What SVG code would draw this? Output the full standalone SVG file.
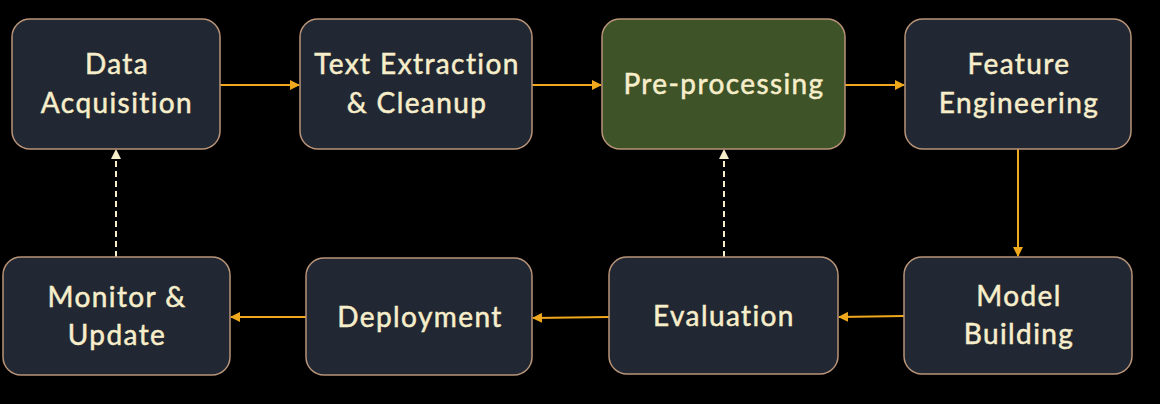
<svg xmlns="http://www.w3.org/2000/svg" width="1160" height="404" viewBox="0 0 1160 404">
<style>
.node rect{fill:#222833;stroke:#b89478;stroke-width:1.5}
.node.hl rect{fill:#3f5328}
.node text{font-family:Lato,"Liberation Sans",sans-serif;font-size:28px;letter-spacing:1.4px;fill:#f7eecb;stroke:#f7eecb;stroke-width:0.5;text-anchor:middle}
.flow{stroke:#f0a81c;stroke-width:2;fill:none;marker-end:url(#ah)}
.fb{stroke:#f6edcb;stroke-width:2;fill:none;stroke-dasharray:6 4;marker-end:url(#ahw)}
</style>
<defs>
<marker id="ah" viewBox="0 0 10 10" refX="9" refY="5" markerWidth="5" markerHeight="5" orient="auto"><path d="M0,0L10,5L0,10z" fill="#f0a81c"/></marker>
<marker id="ahw" viewBox="0 0 10 10" refX="9" refY="5" markerWidth="5" markerHeight="5" orient="auto"><path d="M0,0L10,5L0,10z" fill="#f6edcb"/></marker>
</defs>
<rect width="1160" height="404" fill="#000"/>
<g id="connectors">
<line class="flow" x1="220" y1="85" x2="299" y2="85"/>
<line class="flow" x1="532" y1="85" x2="601" y2="85"/>
<line class="flow" x1="845" y1="85" x2="904" y2="85"/>
<line class="flow" x1="1018" y1="149" x2="1018" y2="256"/>
<line class="flow" x1="904" y1="316" x2="839" y2="317"/>
<line class="flow" x1="609" y1="317" x2="533" y2="318"/>
<line class="flow" x1="306" y1="317" x2="231" y2="317"/>
<line class="fb" x1="116" y1="257" x2="116" y2="150"/>
<line class="fb" x1="724" y1="257" x2="724" y2="150"/>
</g>
<g id="data-acquisition" class="node"><rect x="12" y="19" width="208" height="130" rx="18"/><text x="117" y="74">Data</text><text x="117" y="113">Acquisition</text></g>
<g id="text-extraction" class="node"><rect x="300" y="19" width="232" height="130" rx="18"/><text x="417" y="74">Text Extraction</text><text x="417" y="113">&amp; Cleanup</text></g>
<g id="pre-processing" class="node hl"><rect x="602" y="19" width="243" height="130" rx="18"/><text x="724" y="94">Pre-processing</text></g>
<g id="feature-engineering" class="node"><rect x="905" y="19" width="226" height="130" rx="18"/><text x="1019" y="74">Feature</text><text x="1019" y="113">Engineering</text></g>
<g id="model-building" class="node"><rect x="904" y="257" width="228" height="117" rx="18"/><text x="1019" y="306">Model</text><text x="1019" y="344">Building</text></g>
<g id="evaluation" class="node"><rect x="609" y="257" width="229" height="117" rx="18"/><text x="724" y="326">Evaluation</text></g>
<g id="deployment" class="node"><rect x="306" y="258" width="226" height="117" rx="18"/><text x="420" y="327">Deployment</text></g>
<g id="monitor-update" class="node"><rect x="3" y="257" width="227" height="118" rx="18"/><text x="117" y="307">Monitor &amp;</text><text x="117" y="345">Update</text></g>
</svg>
